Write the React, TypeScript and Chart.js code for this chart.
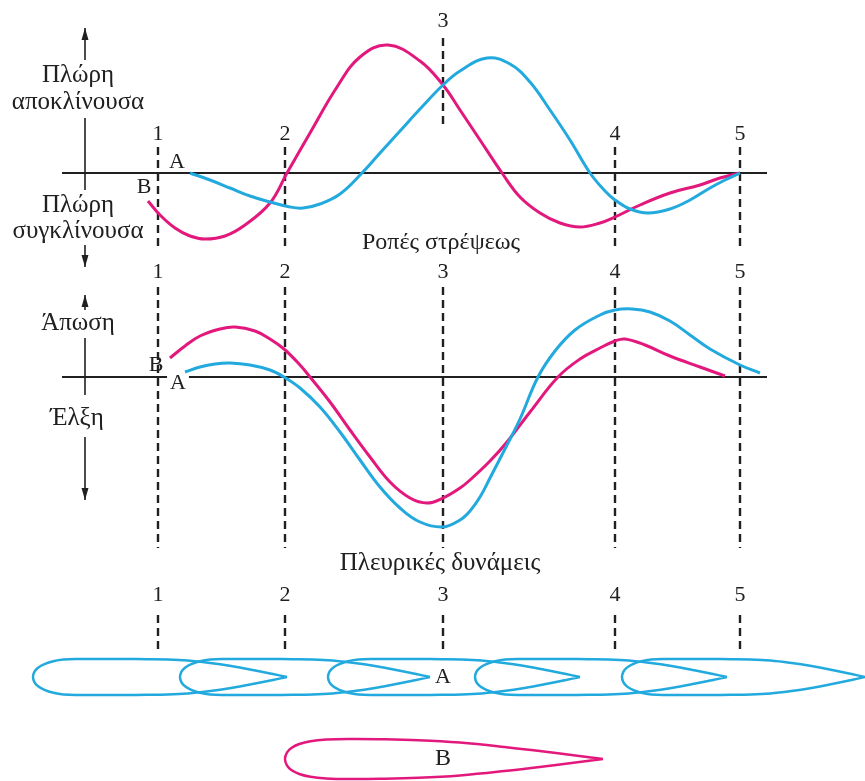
import React, { useEffect, useRef } from "react";
import { Chart, registerables } from "chart.js";

Chart.register(...registerables);

type Pt = [number, number];

// Course positions of the five reference stations (x units along the course)
const stationLabels = ["1", "2", "3", "4", "5"];
const stationPos = [15.8, 28.5, 44.3, 61.5, 74.0];

// Yawing moments (Ροπές στρέψεως): + = bow diverging, − = bow converging
const torqueB: Pt[] = [
  [14.8, -2.8], [16.0, -4.2], [17.5, -5.5], [19.0, -6.3], [20.5, -6.6], [22.5, -6.3],
  [24.5, -5.2], [27.0, -3.0], [28.7, 0], [31.0, 4.0], [33.7, 8.6], [36.0, 11.6],
  [38.8, 12.8], [42.0, 11.2], [44.3, 8.8], [46.0, 6.3], [48.0, 3.3],
  [50.2, 0], [52.0, -2.4], [54.0, -4.0], [56.0, -5.0], [58.0, -5.4], [60.0, -5.0],
  [61.5, -4.4], [64.0, -3.2], [67.0, -2.0], [70.0, -1.2], [72.0, -0.5], [74.0, 0],
];
const torqueA: Pt[] = [
  [19.0, 0], [21.0, -0.7], [23.0, -1.5], [25.0, -2.3], [27.0, -2.9], [29.0, -3.4],
  [30.3, -3.5], [32.0, -3.1], [34.0, -2.1], [36.2, 0], [38.0, 2.0], [40.0, 4.2],
  [42.0, 6.4], [44.3, 8.8], [46.0, 10.2], [48.7, 11.5], [51.0, 10.9],
  [53.0, 9.1], [55.0, 6.3], [57.0, 3.3], [59.0, 0], [60.5, -1.8], [61.5, -2.7],
  [63.0, -3.6], [64.8, -4.0], [67.0, -3.6], [69.0, -2.7], [71.0, -1.5], [72.5, -0.7],
  [74.0, 0],
];

// Lateral forces (Πλευρικές δυνάμεις): + = repulsion, − = attraction
const lateralB: Pt[] = [
  [17.0, 1.9], [18.5, 3.1], [20.0, 4.1], [22.0, 4.8], [23.5, 5.0], [25.5, 4.6],
  [27.0, 3.8], [28.4, 2.8], [30.0, 1.2], [31.0, 0], [33.0, -2.5], [35.0, -5.3],
  [37.0, -8.0], [39.0, -10.5], [41.0, -12.1], [42.7, -12.6], [44.3, -12.1],
  [46.0, -11.1], [47.0, -10.3], [49.0, -8.4], [50.7, -6.5], [53.0, -3.5], [55.8, 0],
  [58.0, 1.8], [60.0, 2.9], [61.5, 3.6], [62.5, 3.8], [64.5, 3.2], [67.0, 2.1],
  [70.0, 1.0], [72.5, 0.1],
];
const lateralA: Pt[] = [
  [18.5, 0.5], [20.0, 1.0], [21.5, 1.3], [23.0, 1.4], [25.0, 1.2], [27.0, 0.7],
  [28.4, 0], [30.0, -1.1], [32.0, -3.0], [34.0, -5.5], [36.0, -8.3], [38.0, -11.0],
  [40.0, -13.1], [42.0, -14.5], [44.3, -15.0], [46.0, -14.3], [47.0, -13.4],
  [48.0, -12.0], [49.0, -10.1], [50.7, -6.8], [52.0, -4.2], [53.8, 0], [55.5, 2.6],
  [57.5, 4.7], [60.0, 6.2], [61.5, 6.7], [63.2, 6.8], [65.0, 6.5], [67.0, 5.6],
  [69.0, 4.2], [71.0, 2.8], [74.0, 1.2], [76.0, 0.4],
];

// Hull waterline half-breadth (fraction of max) along the hull length (fraction)
const hullProfileA: Pt[] = [
  [0, 0], [0.006, 0.3], [0.02, 0.52], [0.045, 0.72], [0.08, 0.88],
  [0.12, 0.97], [0.18, 1], [0.27, 1], [0.36, 1], [0.45, 0.99],
  [0.53, 0.97], [0.61, 0.91], [0.69, 0.79], [0.78, 0.61], [0.87, 0.38], [0.94, 0.18],
  [1, 0],
];
const hullProfileB: Pt[] = [
  [0, 0], [0.006, 0.32], [0.02, 0.55], [0.045, 0.75], [0.08, 0.89],
  [0.13, 0.97], [0.2, 1], [0.3, 0.99], [0.42, 0.94], [0.55, 0.82],
  [0.69, 0.6], [0.84, 0.32], [0.95, 0.1], [1, 0],
];

// Successive positions of vessel A, and the overtaken vessel B
const hullNoseA = [3.3, 18.0, 32.8, 47.5, 62.2];
const hullLengthA = [25.4, 25.0, 25.2, 25.2, 24.3];
const hullBeamA = 1.8;
const hullNoseB = 28.5;
const hullLengthB = 31.8;
const hullBeamB = 2.0;
const hullRowB = -8.2;

const CYAN = "#22a9dd";
const MAGENTA = "#e3187c";
const INK = "#202020";
const SERIF = '"Liberation Serif", "DejaVu Serif", serif';

const toXY = (arr: Pt[]) => arr.map(([x, y]) => ({ x, y }));

const curve = (data: Pt[], color: string, yAxisID: string) => ({
  data: toXY(data),
  yAxisID,
  borderColor: color,
  borderWidth: 3,
  pointRadius: 0,
  fill: false,
  tension: 0.4,
});

const segment = (
  x1: number, y1: number, x2: number, y2: number, yAxisID: string,
  width: number, dash: number[] = []
) => ({
  data: [{ x: x1, y: y1 }, { x: x2, y: y2 }],
  yAxisID,
  borderColor: INK,
  borderWidth: width,
  borderDash: dash,
  pointRadius: 0,
  fill: false,
  tension: 0,
});

// One outline per hull: stern → along the upper side to the bow → back along the lower side
const hullOutline = (
  profile: Pt[], nose: number, length: number, beam: number, row: number, color: string
) => {
  const upper = [...profile].reverse().map(([f, h]) => ({ x: nose + f * length, y: row + h * beam }));
  const lower = profile.slice(1).map(([f, h]) => ({ x: nose + f * length, y: row - h * beam }));
  return {
    data: [...upper, ...lower],
    yAxisID: "yHull",
    borderColor: color,
    borderWidth: 2.5,
    pointRadius: 0,
    fill: false,
    tension: 0.4,
    clip: false,
  };
};

// Station guide spans per panel [from, to] in that panel's units
const torqueGuides: Pt[] = [[2.6, -7.5], [2.6, -7.5], [13.5, 4.5], [2.6, -7.5], [2.6, -7.5]];
const lateralGuide: Pt = [9.0, -17.1];
const hullGuide: Pt = [6.2, 2.5];

type Label = { text: string; x: number; y: number; axis: string; size: number; bg?: boolean };

const labels: Label[] = [
  { text: "Πλώρη", x: 7.8, y: 9.8, axis: "yTorque", size: 25 },
  { text: "αποκλίνουσα", x: 7.8, y: 7.1, axis: "yTorque", size: 25 },
  { text: "Πλώρη", x: 7.8, y: -3.2, axis: "yTorque", size: 25 },
  { text: "συγκλίνουσα", x: 7.8, y: -5.8, axis: "yTorque", size: 25 },
  { text: "A", x: 17.7, y: 1.1, axis: "yTorque", size: 22 },
  { text: "B", x: 14.4, y: -1.4, axis: "yTorque", size: 22 },
  { text: "Ροπές στρέψεως", x: 44.1, y: -7.0, axis: "yTorque", size: 24 },
  { text: "Άπωση", x: 7.8, y: 5.4, axis: "yLateral", size: 25 },
  { text: "Έλξη", x: 7.7, y: -4.1, axis: "yLateral", size: 25 },
  { text: "B", x: 15.6, y: 1.2, axis: "yLateral", size: 22 },
  { text: "A", x: 17.8, y: -0.6, axis: "yLateral", size: 22, bg: true },
  { text: "Πλευρικές δυνάμεις", x: 44.0, y: -18.6, axis: "yLateral", size: 25 },
  { text: "A", x: 44.3, y: 0, axis: "yHull", size: 22 },
  { text: "B", x: 44.3, y: hullRowB, axis: "yHull", size: 24 },
];

// Station number rows: [axis, y] (station 3 of the torque panel sits higher)
const stationRows: { axis: string; y: number[] }[] = [
  { axis: "yTorque", y: [3.9, 3.9, 15.2, 3.9, 3.9] },
  { axis: "yLateral", y: [10.5, 10.5, 10.5, 10.5, 10.5] },
  { axis: "yHull", y: [8.2, 8.2, 8.2, 8.2, 8.2] },
];

// Sense arrows beside each panel: shaft pieces and arrow tips
type Arrow = { axis: string; x: number; up: Pt; mid: Pt; down: Pt };
const senseArrows: Arrow[] = [
  { axis: "yTorque", x: 8.5, up: [11.3, 14.5], mid: [5.5, -1.7], down: [-7.2, -9.4] },
  { axis: "yLateral", x: 8.5, up: [6.7, 8.2], mid: [3.9, -1.8], down: [-6.0, -12.3] },
];

const annotate = {
  id: "annotate",
  afterDatasetsDraw(chart: any) {
    const { ctx, scales } = chart;
    const px = (x: number) => scales.x.getPixelForValue(x);
    const py = (axis: string, y: number) => scales[axis].getPixelForValue(y);
    ctx.save();
    ctx.strokeStyle = INK;
    ctx.fillStyle = INK;
    ctx.lineWidth = 1.6;
    for (const a of senseArrows) {
      const x = px(a.x);
      const pieces: Pt[] = [a.up, a.mid, a.down];
      for (const [y1, y2] of pieces) {
        ctx.beginPath();
        ctx.moveTo(x, py(a.axis, y1));
        ctx.lineTo(x, py(a.axis, y2));
        ctx.stroke();
      }
      for (const tipVal of [a.up[1], a.down[1]]) {
        const tip = py(a.axis, tipVal);
        const dir = tipVal > 0 ? 1 : -1;
        ctx.beginPath();
        ctx.moveTo(x, tip);
        ctx.lineTo(x - 3.5, tip + dir * 12);
        ctx.lineTo(x + 3.5, tip + dir * 12);
        ctx.closePath();
        ctx.fill();
      }
    }
    ctx.textAlign = "center";
    ctx.textBaseline = "middle";
    for (const l of labels) {
      ctx.font = `${l.size}px ${SERIF}`;
      const x = px(l.x);
      const y = py(l.axis, l.y);
      if (l.bg) {
        const w = ctx.measureText(l.text).width + 6;
        ctx.fillStyle = "#ffffff";
        ctx.fillRect(x - w / 2, y - 9, w, 18);
      }
      ctx.fillStyle = INK;
      ctx.fillText(l.text, x, y);
    }
    ctx.font = `22px ${SERIF}`;
    for (const row of stationRows) {
      stationLabels.forEach((s, i) => {
        ctx.fillText(s, px(stationPos[i]), py(row.axis, row.y[i]));
      });
    }
    ctx.restore();
  },
};

export default function App() {
  const ref = useRef<HTMLCanvasElement | null>(null);

  useEffect(() => {
    if (!ref.current) return;
    const dash = [8, 5];
    const datasets: any[] = [
      curve(torqueA, CYAN, "yTorque"),
      curve(torqueB, MAGENTA, "yTorque"),
      curve(lateralA, CYAN, "yLateral"),
      curve(lateralB, MAGENTA, "yLateral"),
      ...hullNoseA.map((nose, i) =>
        hullOutline(hullProfileA, nose, hullLengthA[i], hullBeamA, 0, CYAN)
      ),
      hullOutline(hullProfileB, hullNoseB, hullLengthB, hullBeamB, hullRowB, MAGENTA),
      segment(6.2, 0, 76.7, 0, "yTorque", 2.2),
      segment(6.2, 0, 76.7, 0, "yLateral", 2.2),
      ...stationPos.map((x, i) =>
        segment(x, torqueGuides[i][0], x, torqueGuides[i][1], "yTorque", 2.4, dash)
      ),
      ...stationPos.map((x) =>
        segment(x, lateralGuide[0], x, lateralGuide[1], "yLateral", 2.4, dash)
      ),
      ...stationPos.map((x) =>
        segment(x, hullGuide[0], x, hullGuide[1], "yHull", 2.4, dash)
      ),
    ];

    const chart = new Chart(ref.current, {
      type: "line",
      data: { datasets },
      options: {
        animation: false,
        responsive: false,
        devicePixelRatio: 1,
        events: [],
        layout: { padding: 0 },
        plugins: { legend: { display: false }, tooltip: { enabled: false } },
        scales: {
          x: { type: "linear", min: 0, max: 86.5, display: false },
          yTorque: { type: "linear", min: -60.8, max: 17.3, display: false },
          yLateral: { type: "linear", min: -40.4, max: 37.7, display: false },
          yHull: { type: "linear", min: -10.4, max: 67.7, display: false },
        },
      } as any,
      plugins: [annotate],
    });
    return () => chart.destroy();
  }, []);

  return (
    <div style={{ position: "absolute", left: 0, top: 0, width: 865, height: 781, background: "#fff" }}>
      <canvas ref={ref} width={865} height={781} style={{ display: "block" }} />
    </div>
  );
}
